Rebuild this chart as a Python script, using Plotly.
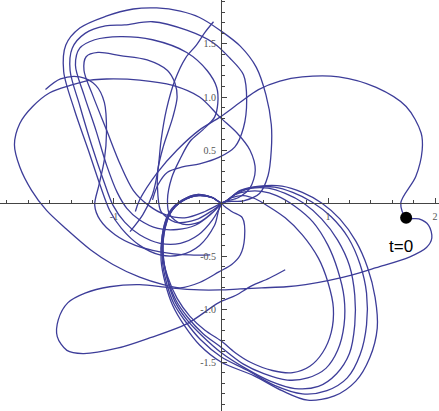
import plotly.graph_objects as go

# ---- traced trajectory pieces (data units) ----
big_x = [-0.80, -0.76, -0.60, -0.41, -0.20, -0.01, 0.18, 0.35, 0.55, 0.76, 1.10, 1.45, 1.73, 1.87, 1.88, 1.82, 1.68, 1.73,
         1.85, 1.94, 1.97, 1.92, 1.76, 1.45, 1.22, 1.01, 0.79, 0.61, 0.38, 0.18, -0.01, -0.20, -0.48, -0.76, -1.04, -1.27,
         -1.43, -1.52, -1.53, -1.44, -1.29, -0.97, -0.66, -0.32, -0.02, 0.14, 0.29, 0.45, 0.60]
big_y = [-0.08, 0.03, 0.28, 0.50, 0.69, 0.81, 0.95, 1.07, 1.15, 1.19, 1.19, 1.09, 0.91, 0.66, 0.50, 0.25, 0.00, -0.14,
         -0.15, -0.21, -0.33, -0.42, -0.51, -0.61, -0.68, -0.73, -0.77, -0.79, -0.80, -0.81, -0.82, -0.82, -0.80, -0.77,
         -0.79, -0.85, -0.94, -1.10, -1.26, -1.39, -1.42, -1.37, -1.27, -1.14, -0.94, -0.87, -0.78, -0.71, -0.63]

far_x = [0.01, 0.10, 0.20, 0.22, 0.18, 0.10, -0.02, -0.20, -0.38, -0.54, -0.76, -1.01, -1.22, -1.44, -1.63, -1.77, -1.88,
         -1.93, -1.88, -1.76, -1.60, -1.41, -1.22, -1.07, -0.76, -0.45, -0.20, -0.01, 0.15, 0.27, 0.32, 0.27, 0.16, 0.01]
far_y = [0.00, -0.08, -0.14, -0.33, -0.49, -0.58, -0.65, -0.75, -0.80, -0.77, -0.70, -0.58, -0.44, -0.25, -0.07, 0.12,
         0.34, 0.55, 0.75, 0.91, 1.04, 1.11, 1.16, 1.17, 1.16, 1.11, 1.00, 0.81, 0.66, 0.50, 0.31, 0.14, 0.05, 0.00]

small_x = [-1.64, -1.50, -1.32, -1.17, -1.09, -1.07, -1.09, -1.14, -1.18, -1.13, -0.99, -0.80, -0.57, -0.29, -0.10]
small_y = [1.07, 1.17, 1.19, 1.11, 0.95, 0.66, 0.41, 0.17, -0.02, -0.16, -0.30, -0.40, -0.46, -0.49, -0.49]

ua_x = [0.01, -0.06, -0.20, -0.38, -0.57, -0.76, -0.93, -1.04, -1.13, -1.24, -1.37, -1.47, -1.45, -1.32, -1.08, -0.82,
        -0.60, -0.38, -0.20, -0.01, 0.18, 0.33, 0.42, 0.47, 0.47, 0.44, 0.36, 0.21, 0.01]
ua_y = [0.00, -0.21, -0.40, -0.49, -0.49, -0.40, -0.24, -0.07, 0.17, 0.50, 0.88, 1.24, 1.49, 1.65, 1.76, 1.83, 1.84,
        1.81, 1.75, 1.63, 1.48, 1.28, 1.02, 0.74, 0.50, 0.26, 0.09, 0.02, 0.00]

ub_x = [0.01, -0.08, -0.21, -0.38, -0.57, -0.76, -0.90, -1.01, -1.10, -1.21, -1.32, -1.41, -1.39, -1.27, -1.08, -0.90,
        -0.64, -0.32, -0.07, 0.08, 0.21, 0.24, 0.21, 0.13, -0.02, -0.20, -0.36, -0.50, -0.59, -0.64]
ub_y = [0.00, -0.16, -0.30, -0.38, -0.38, -0.30, -0.18, -0.02, 0.22, 0.55, 0.92, 1.25, 1.46, 1.60, 1.67, 1.68, 1.71,
        1.63, 1.51, 1.37, 1.21, 0.97, 0.71, 0.53, 0.43, 0.37, 0.34, 0.29, 0.17, 0.03]

uc_x = [0.01, -0.10, -0.24, -0.41, -0.59, -0.76, -0.88, -0.97, -1.07, -1.17, -1.28, -1.36, -1.32, -1.18, -0.94, -0.64,
        -0.32, -0.13, -0.04, -0.03, -0.06, -0.17, -0.29, -0.38, -0.46, -0.50, -0.48, -0.36, -0.20, -0.07, 0.01]
uc_y = [0.00, -0.11, -0.21, -0.25, -0.24, -0.16, -0.05, 0.10, 0.36, 0.69, 1.02, 1.30, 1.46, 1.54, 1.57, 1.54, 1.42,
        1.25, 1.09, 0.94, 0.81, 0.69, 0.58, 0.42, 0.24, 0.03, -0.11, -0.20, -0.18, -0.08, 0.00]

ud_x = [0.01, -0.15, -0.34, -0.52, -0.68, -0.82, -0.94, -1.07, -1.20, -1.28, -1.26, -1.15, -0.94, -0.69, -0.50, -0.43,
        -0.41, -0.45, -0.54, -0.59, -0.59, -0.56, -0.43, -0.24, -0.08, 0.01]
ud_y = [0.00, -0.08, -0.14, -0.11, -0.02, 0.12, 0.36, 0.69, 1.02, 1.25, 1.38, 1.42, 1.39, 1.35, 1.25, 1.13, 1.00, 0.81,
        0.53, 0.31, 0.08, -0.08, -0.18, -0.16, -0.07, 0.00]

v_x = [-0.07, -0.15, -0.23, -0.33, -0.43, -0.51, -0.56, -0.59, -0.64, -0.73, -0.85]
v_y = [1.71, 1.61, 1.49, 1.37, 1.16, 0.88, 0.59, 0.31, 0.08, -0.11, -0.27]

r0_x = [0.01, 0.10, 0.21, 0.32, 0.44, 0.60, 0.76, 0.91, 1.00, 1.05, 1.03, 0.95, 0.83, 0.67, 0.48, 0.27, 0.13, 0.00, -0.15,
        -0.29, -0.41, -0.50, -0.55, -0.54, -0.48, -0.36, -0.22, -0.08, 0.01]
r0_y = [0.00, 0.05, 0.07, 0.04, -0.03, -0.14, -0.30, -0.52, -0.75, -0.99, -1.22, -1.41, -1.54, -1.60, -1.58, -1.50, -1.41,
        -1.30, -1.20, -1.07, -0.90, -0.69, -0.47, -0.25, -0.08, 0.03, 0.08, 0.05, 0.00]
r1_x = [0.01, 0.13, 0.25, 0.38, 0.52, 0.69, 0.86, 1.00, 1.09, 1.15, 1.15, 1.09, 0.98, 0.81, 0.62, 0.40, 0.21, 0.00, -0.17,
        -0.31, -0.42, -0.50, -0.54, -0.53, -0.47, -0.36, -0.21, -0.08, 0.01]
r1_y = [0.00, 0.08, 0.11, 0.11, 0.07, -0.03, -0.18, -0.40, -0.63, -0.89, -1.15, -1.39, -1.56, -1.65, -1.67, -1.61, -1.52,
        -1.36, -1.23, -1.08, -0.92, -0.71, -0.49, -0.27, -0.09, 0.02, 0.07, 0.05, 0.00]
r2_x = [0.01, 0.15, 0.29, 0.44, 0.60, 0.77, 0.94, 1.09, 1.20, 1.25, 1.25, 1.20, 1.08, 0.91, 0.69, 0.46, 0.23, 0.00, -0.18,
        -0.32, -0.43, -0.50, -0.54, -0.53, -0.47, -0.36, -0.21, -0.08, 0.01]
r2_y = [0.00, 0.09, 0.14, 0.14, 0.09, 0.00, -0.15, -0.35, -0.59, -0.87, -1.15, -1.42, -1.61, -1.73, -1.75, -1.68, -1.56,
        -1.41, -1.25, -1.10, -0.93, -0.73, -0.50, -0.28, -0.09, 0.02, 0.07, 0.05, 0.00]
r3_x = [0.01, 0.17, 0.33, 0.50, 0.67, 0.85, 1.03, 1.19, 1.30, 1.36, 1.36, 1.30, 1.18, 0.99, 0.76, 0.50, 0.25, 0.00, -0.19,
        -0.33, -0.44, -0.51, -0.55, -0.54, -0.48, -0.36, -0.22, -0.08, 0.01]
r3_y = [0.00, 0.11, 0.15, 0.15, 0.10, 0.01, -0.13, -0.33, -0.58, -0.85, -1.15, -1.43, -1.65, -1.77, -1.80, -1.72, -1.58,
        -1.45, -1.29, -1.12, -0.95, -0.75, -0.52, -0.29, -0.10, 0.02, 0.07, 0.05, 0.00]
r4_x = [0.01, 0.18, 0.36, 0.57, 0.76, 0.94, 1.11, 1.26, 1.37, 1.44, 1.46, 1.39, 1.26, 1.06, 0.81, 0.57, 0.31, 0.00, -0.20,
        -0.34, -0.45, -0.52, -0.56, -0.55, -0.49, -0.37, -0.23, -0.08, 0.01]
r4_y = [0.00, 0.12, 0.16, 0.16, 0.10, 0.00, -0.15, -0.36, -0.61, -0.89, -1.18, -1.46, -1.68, -1.82, -1.86, -1.77, -1.63,
        -1.50, -1.34, -1.16, -0.97, -0.76, -0.54, -0.31, -0.11, 0.02, 0.08, 0.05, 0.00]

start_x = [1.73]
start_y = [-0.14]
start_label = "t=0"

x_tickvals = [-1, 1, 2]
x_ticktext = ["-1", "1", "2"]
y_tickvals = [-1.5, -1.0, -0.5, 0.5, 1.0, 1.5]
y_ticktext = ["-1.5", "-1.0", "-0.5", "0.5", "1.0", "1.5"]

LINE = "#3d3d99"
pieces = [(big_x, big_y), (far_x, far_y), (small_x, small_y), (ua_x, ua_y), (ub_x, ub_y), (uc_x, uc_y),
          (ud_x, ud_y), (v_x, v_y), (r0_x, r0_y), (r1_x, r1_y), (r2_x, r2_y), (r3_x, r3_y), (r4_x, r4_y)]

fig = go.Figure()
for px_, py_ in pieces:
    fig.add_trace(go.Scatter(x=px_, y=py_, mode="lines",
                             line=dict(color=LINE, width=1.3, shape="spline", smoothing=0.9),
                             hoverinfo="skip", showlegend=False))

fig.add_trace(go.Scatter(x=start_x, y=start_y, mode="markers",
                         marker=dict(color="black", size=12), showlegend=False))
fig.add_annotation(x=start_x[0] - 0.05, y=start_y[0] - 0.27, text=start_label, showarrow=False,
                   font=dict(family="Liberation Sans", size=17, color="black"))

xr = [-2.065, 2.037]
yr = [-1.962, 1.915]
axis_color = "#444444"
tickfont = dict(family="Liberation Serif", size=10, color="#555555")

fig.update_layout(
    width=439, height=411, margin=dict(l=0, r=0, t=0, b=0, pad=0),
    paper_bgcolor="white", plot_bgcolor="white",
    xaxis=dict(range=xr, anchor="free", position=(0 - yr[0]) / (yr[1] - yr[0]), automargin=False,
               showline=True, linecolor=axis_color, linewidth=1, showgrid=False, zeroline=False,
               ticks="inside", ticklen=5, tickcolor=axis_color, tickvals=x_tickvals, ticktext=x_ticktext,
               tickfont=tickfont, ticklabelstandoff=4,
               minor=dict(dtick=0.2, tick0=0, ticks="inside", ticklen=3, tickcolor=axis_color)),
    yaxis=dict(range=yr, anchor="free", position=(0 - xr[0]) / (xr[1] - xr[0]), automargin=False,
               showline=True, linecolor=axis_color, linewidth=1, showgrid=False, zeroline=False,
               ticks="inside", ticklen=5, tickcolor=axis_color, tickvals=y_tickvals, ticktext=y_ticktext,
               tickfont=tickfont, ticklabelstandoff=3,
               minor=dict(dtick=0.1, tick0=0, ticks="inside", ticklen=3, tickcolor=axis_color)),
)

fig.write_html("out.html", config={"displayModeBar": False},
               post_script="document.body.style.margin='0';")
